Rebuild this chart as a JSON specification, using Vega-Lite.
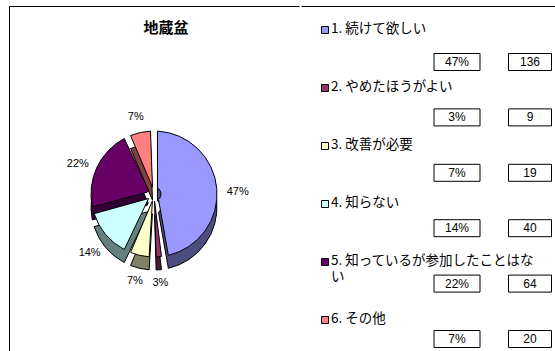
{
  "$schema": "https://vega.github.io/schema/vega-lite/v6.json",
  "padding": {"left": 8, "top": 5, "right": 0, "bottom": 0},
  "background": "#ffffff",
  "spacing": 0,
  "datasets": {
    "answers": [
      {"id": 1, "label": "1. 続けて欲しい", "n": 136, "pct": 0.47},
      {"id": 2, "label": "2. やめたほうがよい", "n": 9, "pct": 0.03},
      {"id": 3, "label": "3. 改善が必要", "n": 19, "pct": 0.07},
      {"id": 4, "label": "4. 知らない", "n": 40, "pct": 0.14},
      {"id": 5, "label": "5. 知っているが参加したことはな\nい", "n": 64, "pct": 0.22},
      {"id": 6, "label": "6. その他", "n": 20, "pct": 0.07}
    ]
  },
  "hconcat": [
    {
      "width": 290,
      "height": 350,
      "view": {"stroke": "#000000", "strokeWidth": 1, "strokeDash": [290, 350, 640]},
      "title": {"text": "地蔵盆", "offset": -30, "dx": 12, "fontSize": 15, "font": "Noto Sans CJK JP", "fontWeight": "bold", "color": "#000000"},
      "data": {"name": "answers"},
      "layer": [
        {
          "mark": {"type": "arc", "outerRadius": 63, "innerRadius": 7, "padAngle": 0.11, "yOffset": 26, "stroke": "#000000", "strokeWidth": 1},
          "encoding": {
            "theta": {"field": "n", "type": "quantitative", "stack": true},
            "order": {"field": "id", "type": "quantitative"},
            "color": {"field": "id", "type": "nominal", "legend": null,
              "scale": {"domain": [1, 2, 3, 4, 5, 6], "range": ["#4D4D80", "#4D1A33", "#808066", "#668080", "#330033", "#804040"]}}
          }
        },
        {
          "mark": {"type": "arc", "outerRadius": 63, "innerRadius": 7, "padAngle": 0.11, "yOffset": 13, "stroke": "#000000", "strokeWidth": 1},
          "encoding": {
            "theta": {"field": "n", "type": "quantitative", "stack": true},
            "order": {"field": "id", "type": "quantitative"},
            "fill": {"field": "id", "type": "nominal", "legend": null,
              "scale": {"domain": [1, 2, 3, 4, 5, 6], "range": ["#9999FF", "#993366", "#FFFFCC", "#CCFFFF", "#660066", "#FF8080"]}}
          }
        },
        {
          "mark": {"type": "text", "radius": 84, "yOffset": 18, "font": "Liberation Sans", "fontSize": 11, "color": "#000000"},
          "encoding": {
            "theta": {"field": "n", "type": "quantitative", "stack": true},
            "order": {"field": "id", "type": "quantitative"},
            "text": {"field": "pct", "type": "quantitative", "format": ".0%"}
          }
        }
      ],
      "resolve": {"scale": {"color": "independent", "fill": "independent"}}
    },
    {
      "width": 270,
      "height": 350,
      "view": {"stroke": "#000000", "strokeWidth": 1, "strokeDash": [270, 3000]},
      "data": {"name": "answers"},
      "layer": [
        {
          "encoding": {
            "x": {"datum": "marker", "type": "nominal", "axis": null, "scale": {"type": "point", "domain": ["marker"], "range": [24, 24]}},
            "y": {"field": "id", "type": "ordinal", "axis": null, "scale": {"type": "point", "range": [24, 314], "padding": 0}}
          },
          "layer": [
            {
              "mark": {"type": "point", "shape": "square", "filled": true, "size": 49, "stroke": "#000000", "strokeWidth": 1, "opacity": 1},
              "encoding": {
                "fill": {"field": "id", "type": "nominal", "legend": null,
                  "scale": {"domain": [1, 2, 3, 4, 5, 6], "range": ["#9999FF", "#993366", "#FFFFCC", "#CCFFFF", "#660066", "#FF8080"]}}
              }
            },
            {
              "mark": {"type": "text", "align": "left", "baseline": "top", "dx": 6, "dy": -8, "lineBreak": "\n", "lineHeight": 16, "font": "Noto Sans CJK JP", "fontSize": 13.5, "color": "#000000"},
              "encoding": {"text": {"field": "label"}}
            }
          ]
        },
        {
          "encoding": {
            "y": {"field": "id", "type": "ordinal", "axis": null, "scale": {"type": "point", "range": [56, 333], "padding": 0}}
          },
          "layer": [
            {
              "mark": {"type": "rect", "width": 46, "height": 17, "fill": "#ffffff", "stroke": "#000000", "strokeWidth": 1},
              "encoding": {"x": {"datum": "pct", "type": "nominal", "axis": null, "scale": {"type": "point", "domain": ["pct", "count"], "range": [156, 229], "padding": 0}}}
            },
            {
              "mark": {"type": "rect", "width": 43, "height": 17, "fill": "#ffffff", "stroke": "#000000", "strokeWidth": 1},
              "encoding": {"x": {"datum": "count", "type": "nominal"}}
            },
            {
              "mark": {"type": "text", "font": "Liberation Sans", "fontSize": 12, "color": "#000000", "baseline": "middle"},
              "encoding": {"x": {"datum": "pct", "type": "nominal"}, "text": {"field": "pct", "type": "quantitative", "format": ".0%"}}
            },
            {
              "mark": {"type": "text", "font": "Liberation Sans", "fontSize": 12, "color": "#000000", "baseline": "middle"},
              "encoding": {"x": {"datum": "count", "type": "nominal"}, "text": {"field": "n", "type": "quantitative"}}
            }
          ]
        }
      ],
      "resolve": {"scale": {"x": "independent", "y": "independent"}}
    }
  ],
  "config": {"view": {"stroke": null}}
}
